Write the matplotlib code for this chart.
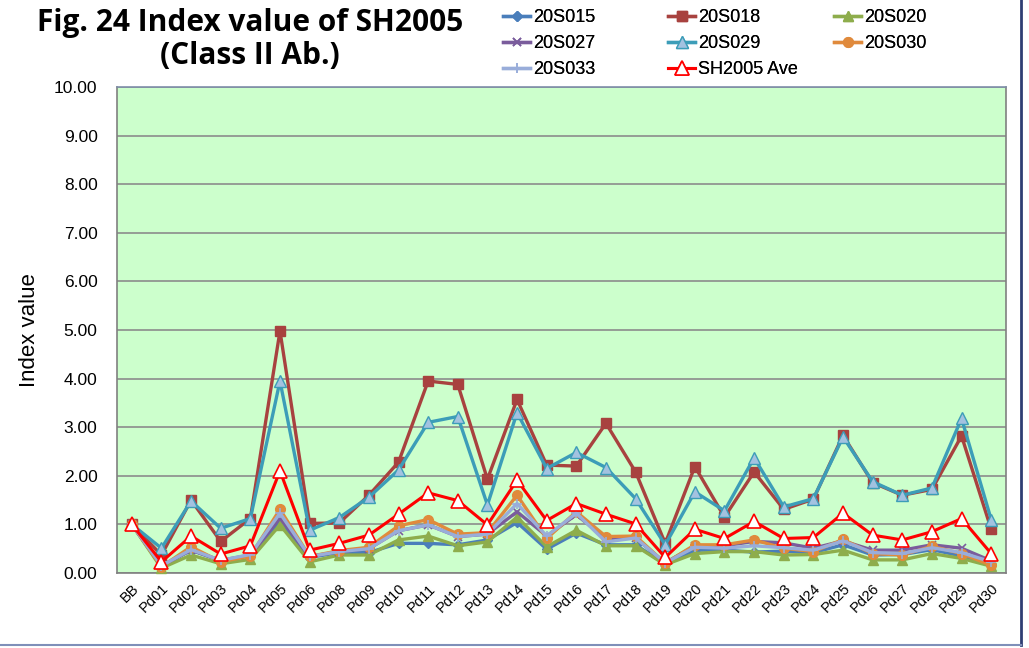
import matplotlib
matplotlib.use("Agg")
import matplotlib.pyplot as plt

categories = ["BB", "Pd01", "Pd02", "Pd03", "Pd04", "Pd05", "Pd06", "Pd08", "Pd09", "Pd10",
              "Pd11", "Pd12", "Pd13", "Pd14", "Pd15", "Pd16", "Pd17", "Pd18", "Pd19", "Pd20",
              "Pd21", "Pd22", "Pd23", "Pd24", "Pd25", "Pd26", "Pd27", "Pd28", "Pd29", "Pd30"]

s20S015 = [1.00, 0.14, 0.47, 0.25, 0.36, 1.05, 0.32, 0.42, 0.42, 0.61,
           0.61, 0.58, 0.68, 1.04, 0.49, 0.82, 0.58, 0.58, 0.18, 0.47,
           0.47, 0.43, 0.45, 0.42, 0.58, 0.37, 0.38, 0.48, 0.35, 0.18]
s20S018 = [1.00, 0.37, 1.50, 0.65, 1.12, 4.98, 1.02, 1.03, 1.60, 2.28,
           3.95, 3.88, 1.93, 3.57, 2.22, 2.20, 3.08, 2.08, 0.61, 2.19,
           1.15, 2.08, 1.31, 1.52, 2.83, 1.86, 1.60, 1.72, 2.82, 0.90]
s20S020 = [1.00, 0.10, 0.37, 0.19, 0.28, 0.99, 0.23, 0.37, 0.37, 0.68,
           0.76, 0.56, 0.64, 1.15, 0.54, 0.88, 0.56, 0.56, 0.17, 0.40,
           0.44, 0.44, 0.37, 0.38, 0.47, 0.27, 0.27, 0.40, 0.30, 0.14]
s20S027 = [1.00, 0.15, 0.47, 0.26, 0.37, 1.13, 0.34, 0.44, 0.50, 0.87,
           0.99, 0.75, 0.80, 1.26, 0.76, 1.20, 0.70, 0.72, 0.21, 0.56,
           0.56, 0.65, 0.62, 0.51, 0.66, 0.47, 0.47, 0.58, 0.51, 0.25]
s20S029 = [1.00, 0.51, 1.48, 0.92, 1.12, 3.95, 0.88, 1.14, 1.56, 2.12,
           3.10, 3.22, 1.40, 3.30, 2.15, 2.48, 2.17, 1.53, 0.58, 1.67,
           1.28, 2.37, 1.36, 1.53, 2.80, 1.88, 1.60, 1.75, 3.18, 1.10]
s20S030 = [1.00, 0.13, 0.54, 0.23, 0.35, 1.31, 0.34, 0.46, 0.53, 0.97,
           1.10, 0.80, 0.83, 1.60, 0.71, 1.26, 0.75, 0.76, 0.20, 0.58,
           0.58, 0.68, 0.51, 0.44, 0.69, 0.40, 0.37, 0.55, 0.40, 0.16]
s20S033 = [1.00, 0.15, 0.48, 0.26, 0.38, 1.23, 0.34, 0.44, 0.50, 0.87,
           0.99, 0.75, 0.80, 1.43, 0.76, 1.23, 0.64, 0.72, 0.21, 0.53,
           0.51, 0.56, 0.52, 0.47, 0.66, 0.42, 0.40, 0.52, 0.42, 0.23]
sAve = [1.00, 0.23, 0.76, 0.39, 0.56, 2.10, 0.47, 0.61, 0.78, 1.21,
        1.65, 1.49, 0.99, 1.91, 1.08, 1.43, 1.21, 1.01, 0.32, 0.90,
        0.71, 1.06, 0.71, 0.73, 1.23, 0.78, 0.68, 0.85, 1.12, 0.40]

yticks = [0, 1, 2, 3, 4, 5, 6, 7, 8, 9, 10]

fig = plt.figure(figsize=(10.29, 6.48), dpi=100)
ax = fig.add_axes([117/1029, 1 - 573/648, (1006-117)/1029, (573-87)/648])
ax.set_facecolor("#CCFFCC")

x = list(range(len(categories)))
lw = 2.4
series = [
    ("20S015", s20S015, dict(color="#4A7EBB", marker="D", ms=5, mfc="#4A7EBB", mec="#4A7EBB")),
    ("20S018", s20S018, dict(color="#A8423F", marker="s", ms=7, mfc="#A8423F", mec="#A8423F")),
    ("20S020", s20S020, dict(color="#8EAD4C", marker="^", ms=7, mfc="#8EAD4C", mec="#8EAD4C")),
    ("20S027", s20S027, dict(color="#7A5C9C", marker="x", ms=6, mfc="#7A5C9C", mec="#7A5C9C", mew=1.2)),
    ("20S029", s20S029, dict(color="#3C9DB8", marker="^", ms=8, mfc="#A3C2E0", mec="#3C9DB8", mew=1.0)),
    ("20S030", s20S030, dict(color="#E08A3C", marker="o", ms=7, mfc="#E08A3C", mec="#E08A3C")),
    ("20S033", s20S033, dict(color="#99ADDA", marker="+", ms=7, mfc="#99ADDA", mec="#99ADDA", mew=1.2)),
    ("SH2005 Ave", sAve, dict(color="#FF0000", marker="^", ms=10, mfc="white", mec="#FF0000", mew=1.2)),
]
handles = []
for i, (name, vals, st) in enumerate(series):
    (h,) = ax.plot(x, vals, lw=lw if name != "SH2005 Ave" else 2.2, label=name, zorder=3 + i, clip_on=False, **st)
    handles.append(h)

ax.set_xlim(-0.5, len(categories) - 0.5)
ax.set_ylim(0, 10)
ax.set_yticks(yticks)
ax.set_yticklabels([f"{v:.2f}" for v in yticks], fontsize=12.5, family="Liberation Sans")
ax.set_xticks(x)
ax.set_xticklabels(categories, rotation=45, ha="right", rotation_mode="anchor",
                   fontsize=10.5, family="Liberation Sans")
ax.tick_params(axis="both", length=0, pad=6)
ax.tick_params(axis="y", pad=14)
ax.yaxis.grid(True, color="#8C8C8C", lw=1.2)
ax.set_axisbelow(True)
for sp in ax.spines.values():
    sp.set_color("#808080")
    sp.set_linewidth(1.2)
ax.spines["top"].set_color("#7F8FA9")

ax.set_ylabel("Index value", fontsize=16, family="Liberation Sans", labelpad=10)

fig.text(250/1029, 1 - 23/648, "Fig. 24 Index value of SH2005", ha="center", va="center",
         fontsize=21.5, fontweight="bold", family="Open Sans")
fig.text(250/1029, 1 - 56/648, "(Class II Ab.)", ha="center", va="center",
         fontsize=21.5, fontweight="bold", family="Open Sans")

# legend: three equal-width columns
columns = [[0, 3, 6], [1, 4, 7], [2, 5]]
col_x = [487, 652, 818]
for cx, idxs in zip(col_x, columns):
    lg = fig.legend([handles[i] for i in idxs], [series[i][0] for i in idxs], ncol=1,
                    loc="upper left", bbox_to_anchor=(cx/1029, 1 + 7/648), frameon=False,
                    prop={"family": "Liberation Sans", "size": 13},
                    handlelength=1.5, handletextpad=0.15, labelspacing=0.5)
    fig.add_artist(lg)

# outer frame lines
fig.add_artist(plt.Line2D([1021/1029, 1021/1029], [1 - 645/648, 1], transform=fig.transFigure,
                          color="#2F3E73", lw=2))
fig.add_artist(plt.Line2D([0, 1021/1029], [1 - 645/648, 1 - 645/648], transform=fig.transFigure,
                          color="#7F8FB9", lw=1.5))

fig.savefig("out.png", dpi=100)
